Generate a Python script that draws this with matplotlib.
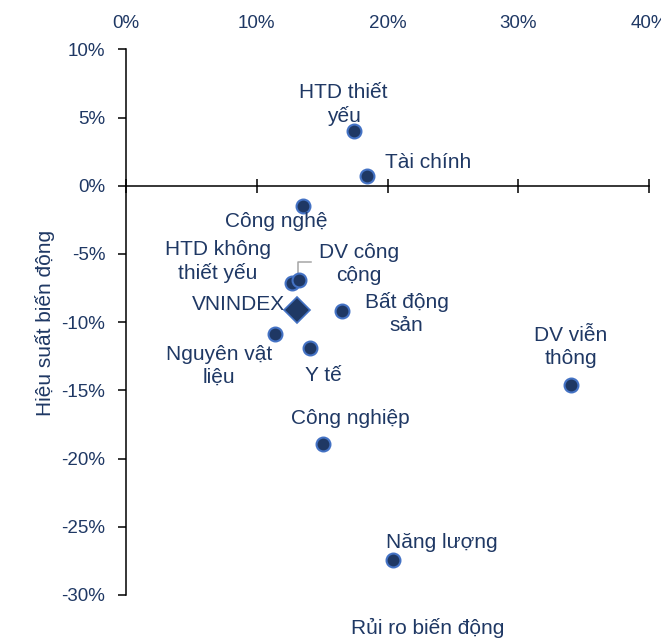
import matplotlib
matplotlib.use("Agg")
import matplotlib.pyplot as plt
from matplotlib.ticker import FuncFormatter

# Sector risk (volatility, %) vs. return (%)
sectors = ["HTD thiết\nyếu", "Tài chính", "Công nghệ", "HTD không\nthiết yếu",
           "DV công\ncộng", "Bất động\nsản", "Nguyên vật\nliệu", "Y tế",
           "DV viễn\nthông", "Công nghiệp", "Năng lượng"]
risk = [17.4, 18.4, 13.5, 12.7, 13.2, 16.5, 11.4, 14.1, 34.0, 15.1, 20.4]
ret = [4.0, 0.7, -1.5, -7.1, -6.9, -9.2, -10.9, -11.9, -14.6, -18.9, -27.4]

index_name = "VNINDEX"
index_risk = 13.1
index_ret = -9.1

x_ticks = [0, 10, 20, 30, 40]
y_ticks = [-30, -25, -20, -15, -10, -5, 0, 5, 10]

NAVY = "#1f3864"
EDGE = "#4472c4"
FONT = ["Liberation Sans", "DejaVu Sans"]
TICKFONT = ["Liberation Sans Narrow", "Liberation Sans", "DejaVu Sans"]

# label offsets in pixels (dx, dy) and horizontal alignment
label_pos = {
    "HTD thiết\nyếu": (-10, 27, "center"),
    "Tài chính": (18, 14, "left"),
    "Công nghệ": (-26, -15, "center"),
    "HTD không\nthiết yếu": (-74, 21, "center"),
    "DV công\ncộng": (60, 16, "center"),
    "Bất động\nsản": (65, -2, "center"),
    "Nguyên vật\nliệu": (-56, -31, "center"),
    "Y tế": (13, -27, "center"),
    "DV viễn\nthông": (0, 38, "center"),
    "Công nghiệp": (27, 25, "center"),
    "Năng lượng": (49, 17, "center"),
}

fig = plt.figure(figsize=(6.61, 6.39), dpi=100)
ax = fig.add_axes([0.1906, 0.0689, 0.7914, 0.8538])
ax.set_xlim(x_ticks[0], x_ticks[-1])
ax.set_ylim(y_ticks[0], y_ticks[-1])

# axes: x axis crosses at 0 return, labels on top
for s in ["right", "top"]:
    ax.spines[s].set_visible(False)
ax.spines["bottom"].set_position(("data", 0))
ax.spines["bottom"].set_linewidth(1.1)
ax.spines["left"].set_linewidth(1.1)
ax.set_xticks(x_ticks)
ax.set_yticks(y_ticks)
pct = FuncFormatter(lambda v, p: f"{v:.0f}%")
ax.xaxis.set_major_formatter(pct)
ax.yaxis.set_major_formatter(pct)
ax.tick_params(axis="x", direction="inout", length=10, width=1.1,
               labelbottom=False, labeltop=True, top=False, pad=7.5,
               labelcolor=NAVY, labelsize=13.5)
ax.tick_params(axis="y", direction="out", length=5.8, width=1.1,
               labelcolor=NAVY, labelsize=13.5, pad=9)
for lab in ax.get_xticklabels() + ax.get_yticklabels():
    lab.set_family(TICKFONT)

# sector points
ax.plot(risk, ret, linestyle="none", marker="o", markersize=10,
        markerfacecolor=NAVY, markeredgecolor=EDGE, markeredgewidth=1.5,
        zorder=3)
ax.plot([index_risk], [index_ret], linestyle="none", marker="D",
        markersize=13.5, markerfacecolor=NAVY, markeredgecolor=EDGE,
        markeredgewidth=1.2, zorder=4)

px = 72 / fig.dpi
for name, x, y in zip(sectors, risk, ret):
    dx, dy, ha = label_pos[name]
    ax.annotate(name, (x, y), xytext=(dx * px, dy * px),
                textcoords="offset points", ha=ha, va="center",
                color=NAVY, fontsize=15, family=FONT, linespacing=1.25,
                multialignment="center", zorder=5)

ax.annotate(index_name, (index_risk, index_ret), xytext=(-12 * px, 5 * px),
            textcoords="offset points", ha="right", va="center",
            color=NAVY, fontsize=15, family=FONT, zorder=5)

# leader line for the utilities label
i = sectors.index("DV công\ncộng")
xy0 = ax.transData.transform((risk[i], ret[i]))
inv = ax.transData.inverted()
pts = [inv.transform((xy0[0] - 1, xy0[1] + 7)),
       inv.transform((xy0[0] - 1, xy0[1] + 18)),
       inv.transform((xy0[0] + 12, xy0[1] + 18))]
ax.plot([p[0] for p in pts], [p[1] for p in pts], color="#a5a5a5",
        linewidth=1.1, zorder=2)

fig.text(428 / 661, 1 - 628 / 639, "Rủi ro biến động", ha="center",
         va="center", color=NAVY, fontsize=15, family=FONT)
fig.text(45 / 661, 1 - 323 / 639, "Hiệu suất biến động", ha="center",
         va="center", rotation=90, color=NAVY, fontsize=15, family=FONT)

fig.savefig("out.png", dpi=100)
